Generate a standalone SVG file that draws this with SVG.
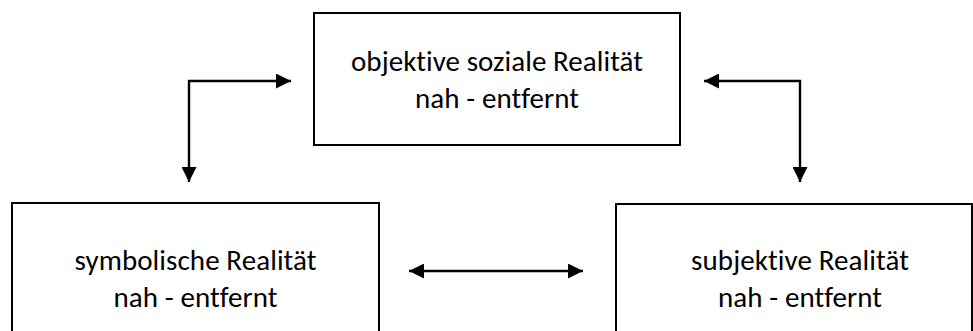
<svg xmlns="http://www.w3.org/2000/svg" width="973" height="331" viewBox="0 0 973 331">
<style>
.box{fill:#fff;stroke:#000;stroke-width:2}
.lbl{font-family:Carlito,Calibri,Lato,"Open Sans",sans-serif;font-size:29px;fill:#000;text-anchor:middle;font-variant-ligatures:none;font-feature-settings:"liga" 0,"clig" 0,"dlig" 0}
.con{fill:none;stroke:#000;stroke-width:2.4}
</style>
<defs>
<marker id="ah" viewBox="0 0 10 10" refX="10" refY="5" markerWidth="15" markerHeight="15" markerUnits="userSpaceOnUse" orient="auto-start-reverse">
<path d="M0,0 L10,5 L0,10 Z" fill="#000"/>
</marker>
</defs>
<rect width="973" height="331" fill="#fff"/>
<g id="node-objektiv">
<rect class="box" x="314" y="13" width="366" height="132"/>
<text class="lbl" x="497" y="71" textLength="292">objektive soziale Realität</text>
<text class="lbl" x="497" y="108" textLength="164">nah - entfernt</text>
</g>
<g id="node-symbolisch">
<rect class="box" x="12" y="203" width="367" height="150"/>
<text class="lbl" x="195.5" y="270" textLength="242">symbolische Realität</text>
<text class="lbl" x="195.5" y="307" textLength="164">nah - entfernt</text>
</g>
<g id="node-subjektiv">
<rect class="box" x="616" y="204" width="356" height="150"/>
<text class="lbl" x="800" y="270" textLength="218">subjektive Realität</text>
<text class="lbl" x="800" y="307" textLength="164">nah - entfernt</text>
</g>
<g id="connectors">
<path class="con" d="M189,182 V81 H291" marker-start="url(#ah)" marker-end="url(#ah)"/>
<path class="con" d="M704,81 H800 V182" marker-start="url(#ah)" marker-end="url(#ah)"/>
<path class="con" d="M409,271 H583" marker-start="url(#ah)" marker-end="url(#ah)"/>
</g>
</svg>
